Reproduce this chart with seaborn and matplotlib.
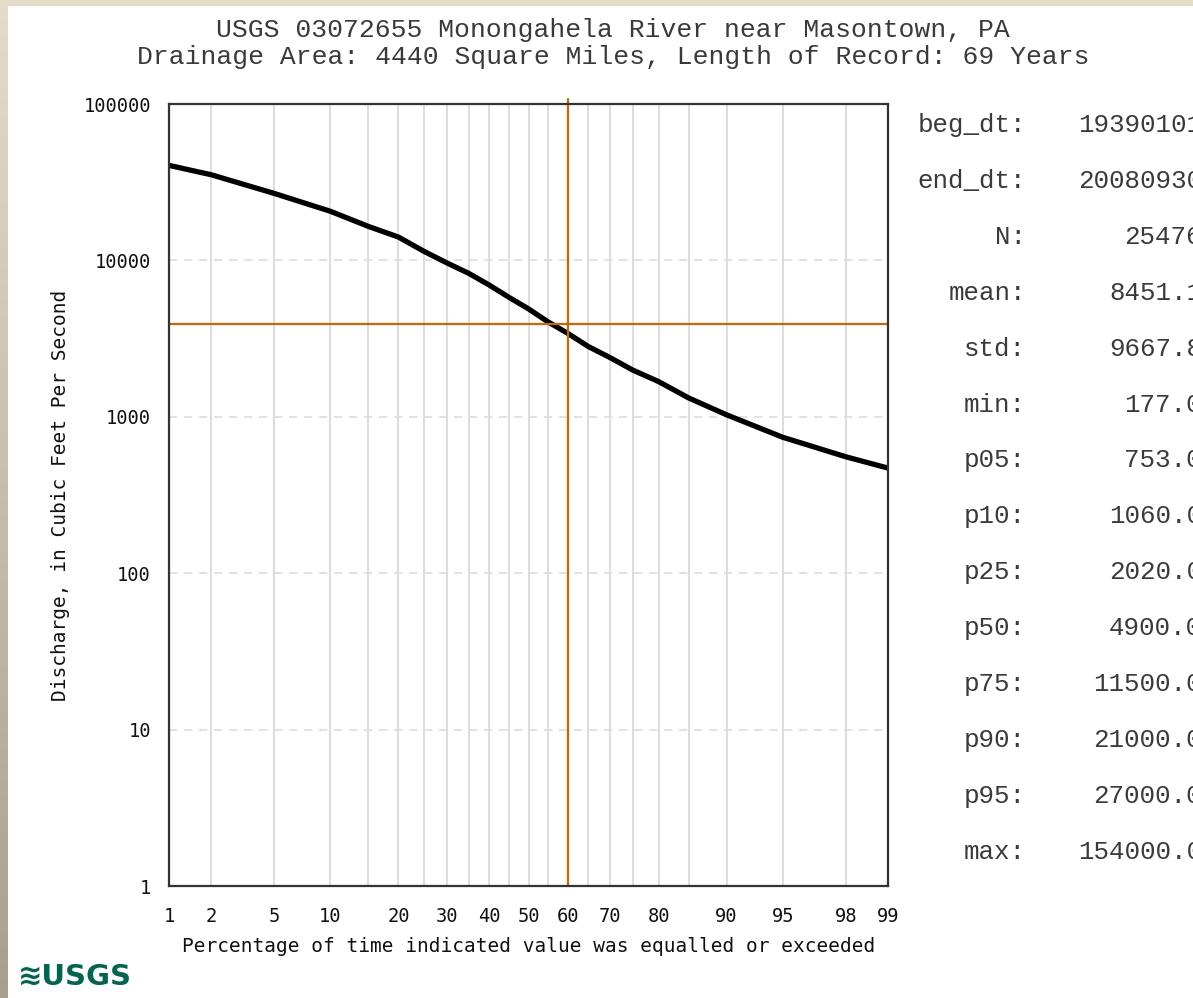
import numpy as np
import pandas as pd
import matplotlib
matplotlib.use("Agg")
import matplotlib.pyplot as plt
import matplotlib.ticker as mticker
import seaborn as sns
from statistics import NormalDist

# --- Data ---
EXCEED_PCT = [1, 2, 5, 10, 15, 20, 25, 30, 35, 40, 45, 50, 55, 60,
              65, 70, 75, 80, 85, 90, 95, 98, 99]
DISCHARGE = [40500, 35300, 26800, 20600, 16500, 14100, 11400, 9600, 8250,
             6950, 5800, 4900, 4050, 3420, 2820, 2400, 1990, 1680, 1320,
             1030, 740, 555, 470]

CROSS_PCT = 60
CROSS_Q = 3900

X_TICKS = [1, 2, 5, 10, 20, 30, 40, 50, 60, 70, 80, 90, 95, 98, 99]
X_MINOR = [15, 25, 35, 45, 55, 65, 75, 85]
Y_TICKS = [1, 10, 100, 1000, 10000, 100000]

STAT_NAMES = ["beg_dt:", "end_dt:", "N:", "mean:", "std:", "min:", "p05:",
              "p10:", "p25:", "p50:", "p75:", "p90:", "p95:", "max:"]
STAT_VALUES = ["19390101", "20080930", "25476", "8451.1", "9667.8", "177.0",
               "753.0", "1060.0", "2020.0", "4900.0", "11500.0", "21000.0",
               "27000.0", "154000.0"]

TITLE_1 = "USGS 03072655 Monongahela River near Masontown, PA"
TITLE_2 = "Drainage Area: 4440 Square Miles, Length of Record: 69 Years"

# --- Style ---
ORANGE = "#CC6600"
GRID = "#DDDDDD"
TEXT = "#3A3A3A"
W, H = 1193, 998

sns.set_style("white")
plt.rcParams["font.family"] = ["DejaVu Sans Mono", "DejaVu Sans"]

_nd = NormalDist()


def prob_forward(p):
    p = np.clip(np.asarray(p, dtype=float), 1e-4, 100 - 1e-4) / 100.0
    return np.vectorize(_nd.inv_cdf, otypes=[float])(p)


def prob_inverse(z):
    z = np.asarray(z, dtype=float)
    return np.vectorize(_nd.cdf, otypes=[float])(z) * 100.0


df = pd.DataFrame({"pct": EXCEED_PCT, "q": DISCHARGE})

fig = plt.figure(figsize=(W / 100, H / 100), dpi=100, facecolor="white")

# beige frame strips at the left and top edge
strip = fig.add_axes([0, 0, 8 / W, 1], zorder=-5)
strip.imshow(np.linspace(0, 1, 256).reshape(-1, 1), aspect="auto",
             cmap=matplotlib.colors.LinearSegmentedColormap.from_list(
                 "bg", ["#E4DBC8", "#A89F8E"]))
strip.set_axis_off()
fig.patches.append(plt.Rectangle((0, 1 - 5 / H), 1, 5 / H, transform=fig.transFigure,
                                 color="#E4DBC8", zorder=-5))

ax = fig.add_axes([169 / W, 1 - 886 / H, (888 - 169) / W, (886 - 104) / H])

sns.lineplot(data=df, x="pct", y="q", ax=ax, color="black", linewidth=3.8,
             sort=False, zorder=4, solid_joinstyle="round", solid_capstyle="round")

ax.set_xscale("function", functions=(prob_forward, prob_inverse))
ax.set_yscale("log")
ax.set_xlim(1, 99)
ax.set_ylim(1, 100000)

# crosshair
ax.axvline(CROSS_PCT, ymin=0, ymax=1.006, color=ORANGE, lw=1.6, zorder=5, clip_on=False)
ax.axhline(CROSS_Q, color=ORANGE, lw=1.6, zorder=5)

# ticks
ax.set_xticks(X_TICKS, labels=[str(v) for v in X_TICKS])
ax.set_xticks(X_MINOR, minor=True)
ax.set_yticks(Y_TICKS, labels=[str(v) for v in Y_TICKS])
ax.yaxis.set_minor_locator(mticker.LogLocator(base=10, subs=np.arange(2, 10)))
ax.yaxis.set_minor_formatter(mticker.NullFormatter())

ax.tick_params(axis="x", which="major", direction="in", length=8, width=1.5,
               color="#222222", labelsize=13.5, pad=15, top=False,
               labelcolor="#111111")
ax.tick_params(axis="x", which="minor", length=0)
ax.tick_params(axis="y", which="major", direction="in", length=7.5, width=1.5,
               color="#222222", labelsize=13.5, pad=13, right=False,
               labelcolor="#111111")
ax.tick_params(axis="y", which="minor", direction="in", length=5, width=1.5,
               color="#222222", right=False)

# grid: solid vertical lines, dashed horizontal decades
ax.xaxis.grid(True, which="both", color=GRID, lw=1.5, ls="-")
ax.yaxis.grid(True, which="major", color=GRID, lw=1.2, ls=(0, (5, 4)))
ax.set_axisbelow(True)

for s in ax.spines.values():
    s.set_color("#333333")
    s.set_linewidth(1.6)
    s.set_zorder(6)

ax.set_xlabel("Percentage of time indicated value was equalled or exceeded",
              fontsize=14, color="#111111", labelpad=8)
ax.set_ylabel("Discharge, in Cubic Feet Per Second", fontsize=14,
              color="#111111", labelpad=10)

# titles
mono = ["Liberation Mono", "DejaVu Sans Mono"]
fig.text(613 / W, 1 - 30 / H, TITLE_1, ha="center", va="center",
         family=mono, fontsize=19, color=TEXT)
fig.text(613 / W, 1 - 57 / H, TITLE_2, ha="center", va="center",
         family=mono, fontsize=19, color=TEXT)

# statistics column on the right (values run off the right edge, as in the source)
for i, (name, val) in enumerate(zip(STAT_NAMES, STAT_VALUES)):
    yy = 1 - (125 + 55.9 * i) / H
    fig.text(1026 / W, yy, name, ha="right", va="center", family=mono,
             fontsize=18.6, color=TEXT)
    fig.text(1202 / W, yy, val, ha="right", va="center", family=mono,
             fontsize=18.6, color=TEXT)

# USGS logo text
fig.text(18 / W, 1 - 977 / H, "\u224bUSGS", ha="left", va="center",
         family=["DejaVu Sans"], fontweight="bold", fontsize=21,
         color="#00664F")

fig.savefig("out.png", dpi=100, facecolor="white")
